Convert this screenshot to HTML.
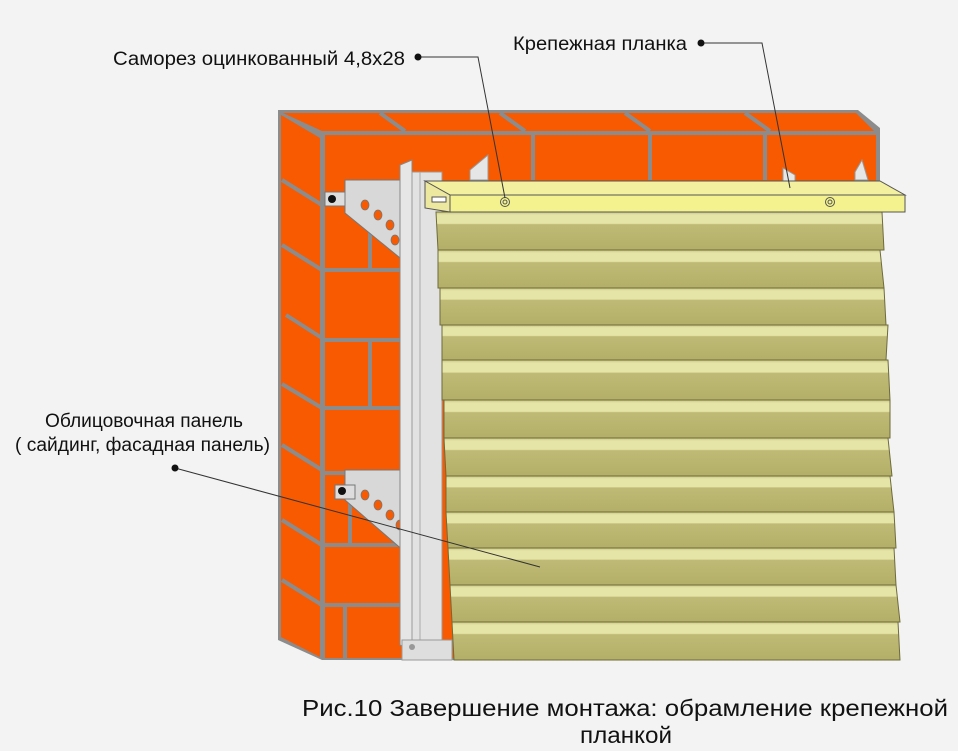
<!DOCTYPE html>
<html><head><meta charset="utf-8"><style>
html,body{margin:0;padding:0;background:#f3f3f3;}
svg{display:block;}
text{font-family:"Liberation Sans",sans-serif;fill:#111;}
</style></head><body>
<svg width="958" height="751" viewBox="0 0 958 751" xmlns="http://www.w3.org/2000/svg">
<rect width="958" height="751" fill="#f3f3f3"/>
<defs>
<linearGradient id="pl" x1="0" y1="0" x2="0" y2="1">
<stop offset="0" stop-color="#c9c684"/><stop offset="0.08" stop-color="#e6e5a8"/><stop offset="0.3" stop-color="#e6e5a8"/>
<stop offset="0.33" stop-color="#bfbb76"/><stop offset="1" stop-color="#b3af68"/>
</linearGradient>
</defs>
<polygon points="278,110 858,110 880,128 880,660 322,660 278,640" fill="#8c8c8c"/>
<polygon points="281,115 320,138 320,657 281,637" fill="#f75a00"/>
<polygon points="283,113 856,113 874,131 322,131" fill="#f75a00"/>
<rect x="325" y="135" width="551" height="523" fill="#f75a00"/>
<g stroke="#8c8c8c" stroke-width="4" fill="none">
<line x1="380" y1="113" x2="405" y2="131"/>
<line x1="500" y1="113" x2="525" y2="131"/>
<line x1="625" y1="113" x2="650" y2="131"/>
<line x1="745" y1="113" x2="770" y2="131"/>
<line x1="325" y1="270" x2="876" y2="270"/>
<line x1="325" y1="340" x2="420" y2="340"/>
<line x1="325" y1="408" x2="420" y2="408"/>
<line x1="325" y1="473" x2="420" y2="473"/>
<line x1="325" y1="545" x2="420" y2="545"/>
<line x1="325" y1="605" x2="420" y2="605"/>
<line x1="370" y1="340" x2="370" y2="408"/>
<line x1="350" y1="473" x2="350" y2="545"/>
<line x1="345" y1="605" x2="345" y2="658"/>
<line x1="370" y1="230" x2="370" y2="270"/>
<line x1="533" y1="134" x2="533" y2="180"/>
<line x1="650" y1="134" x2="650" y2="180"/>
<line x1="765" y1="134" x2="765" y2="180"/>
<line x1="282" y1="180" x2="322" y2="205"/>
<line x1="282" y1="245" x2="322" y2="270"/>
<line x1="286" y1="315" x2="322" y2="338"/>
<line x1="282" y1="384" x2="322" y2="408"/>
<line x1="282" y1="445" x2="322" y2="470"/>
<line x1="282" y1="520" x2="322" y2="545"/>
<line x1="282" y1="580" x2="322" y2="605"/>
</g>
<g>
<polygon points="345,180 408,180 408,230 420,235 420,265 405,262 345,213" fill="#d8d8d8" stroke="#777" stroke-width="1"/>
<rect x="325" y="192" width="20" height="14" fill="#ddd" stroke="#777"/>
<circle cx="332" cy="199" r="4" fill="#111"/>
<polygon points="345,470 408,470 408,525 420,530 420,555 405,552 345,500" fill="#d8d8d8" stroke="#777" stroke-width="1"/>
<rect x="335" y="485" width="20" height="14" fill="#ddd" stroke="#777"/>
<circle cx="342" cy="491" r="4" fill="#111"/>
<g fill="#f75a00" stroke="#777" stroke-width="0.8">
<ellipse cx="365" cy="205" rx="4" ry="5"/><ellipse cx="378" cy="215" rx="4" ry="5"/><ellipse cx="390" cy="225" rx="4" ry="5"/><ellipse cx="395" cy="240" rx="4" ry="5"/>
<ellipse cx="365" cy="495" rx="4" ry="5"/><ellipse cx="378" cy="505" rx="4" ry="5"/><ellipse cx="390" cy="515" rx="4" ry="5"/><ellipse cx="400" cy="525" rx="4" ry="5"/>
</g>
</g>
<polygon points="400,165 412,160 412,650 400,645" fill="#e6e6e6" stroke="#888"/>
<rect x="412" y="172" width="30" height="488" fill="#e2e2e2" stroke="#999"/>
<line x1="420" y1="172" x2="420" y2="660" stroke="#aaa"/>
<rect x="402" y="640" width="50" height="20" fill="#dedede" stroke="#999"/>
<circle cx="412" cy="647" r="3" fill="#999"/>
<polygon points="470,170 488,155 488,180 470,180" fill="#e6e6e6" stroke="#999"/>
<polygon points="783,168 795,175 795,185 783,185" fill="#e6e6e6" stroke="#999"/>
<polygon points="855,172 862,160 868,180 855,180" fill="#e6e6e6" stroke="#999"/>
<g stroke="#6e6b3a" stroke-width="1">
<polygon points="436,212 882,212 884,250 438,250" fill="url(#pl)"/>
<polygon points="438,250 880,250 884,288 438,288" fill="url(#pl)"/>
<polygon points="440,288 884,288 886,325 440,325" fill="url(#pl)"/>
<polygon points="442,325 888,325 886,360 442,360" fill="url(#pl)"/>
<polygon points="442,360 888,360 890,400 442,400" fill="url(#pl)"/>
<polygon points="444,400 890,400 890,438 444,438" fill="url(#pl)"/>
<polygon points="444,438 888,438 892,476 446,476" fill="url(#pl)"/>
<polygon points="446,476 890,476 894,512 446,512" fill="url(#pl)"/>
<polygon points="446,512 894,512 896,548 448,548" fill="url(#pl)"/>
<polygon points="448,548 894,548 896,585 450,585" fill="url(#pl)"/>
<polygon points="450,585 896,585 900,622 452,622" fill="url(#pl)"/>
<polygon points="452,622 898,622 900,660 454,660" fill="url(#pl)"/>
</g>
<polygon points="425,181 880,181 905,195 450,195" fill="#f3f0a0" stroke="#555"/>
<polygon points="425,181 450,195 450,212 425,208" fill="#ece8a0" stroke="#555"/>
<polygon points="450,195 905,195 905,212 450,212" fill="#f3f28e" stroke="#555"/>
<rect x="432" y="197" width="14" height="5" fill="#fff" stroke="#555"/>
<circle cx="505" cy="202" r="4.5" fill="#f3f28e" stroke="#555"/>
<circle cx="505" cy="202" r="2" fill="none" stroke="#555"/>
<circle cx="830" cy="202" r="4.5" fill="#f3f28e" stroke="#555"/>
<circle cx="830" cy="202" r="2" fill="none" stroke="#555"/>
<g stroke="#333" stroke-width="1" fill="none">
<polyline points="418,57 478,57 505,198"/>
<polyline points="701,43 762,43 790,188"/>
<line x1="175" y1="468" x2="540" y2="567"/>
</g>
<circle cx="418" cy="57" r="3.5" fill="#111"/>
<circle cx="701" cy="43" r="3.5" fill="#111"/>
<circle cx="175" cy="468" r="3.5" fill="#111"/>
<text x="113" y="65" font-size="19" textLength="292" lengthAdjust="spacingAndGlyphs">Саморез оцинкованный 4,8х28</text>
<text x="513" y="50" font-size="19" textLength="174" lengthAdjust="spacingAndGlyphs">Крепежная планка</text>
<text x="45" y="427" font-size="19" textLength="198" lengthAdjust="spacingAndGlyphs">Облицовочная панель</text>
<text x="15" y="451" font-size="19" textLength="255" lengthAdjust="spacingAndGlyphs">( сайдинг, фасадная панель)</text>
<text x="302" y="716" font-size="23" textLength="646" lengthAdjust="spacingAndGlyphs">Рис.10 Завершение монтажа: обрамление крепежной</text>
<text x="580" y="743" font-size="23" textLength="92" lengthAdjust="spacingAndGlyphs">планкой</text>
</svg>
</body></html>
